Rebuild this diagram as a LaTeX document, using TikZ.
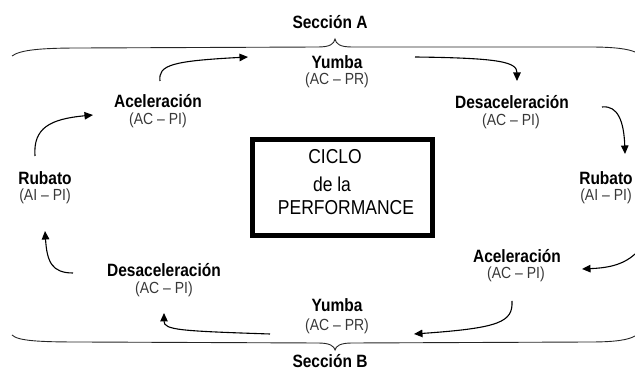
\documentclass[tikz,border=0pt]{standalone}
\usepackage{fontspec}
\setmainfont{Liberation Sans}
\usepackage{graphicx}
\usetikzlibrary{arrows.meta}
\newcommand\vstr[1]{\scalebox{1}[1.15]{#1}}
\begin{document}
\begin{tikzpicture}[x=1pt,y=-1pt,
  lab/.style={font=\fontsize{15.5}{17}\selectfont\bfseries, inner sep=0pt},
  sublab/.style={font=\fontsize{14}{15}\selectfont, text=black!78, inner sep=0pt},
  boxtxt/.style={font=\fontsize{17.5}{20}\selectfont, inner sep=0pt},
  flow/.style={line width=1.1pt, -{Triangle[length=8.5pt,width=7.5pt]}},
  brace/.style={line width=0.9pt, black!85}]
\useasboundingbox (0,0) rectangle (635,371);

% section labels
\node[lab] (secA) at (330,22) {\vstr{Sección A}};
\node[lab] (secB) at (330,361) {\vstr{Sección B}};

% braces
\draw[brace] (12,56) .. controls (20,50) and (40,48) .. (80,48) -- (318,47)
  .. controls (330,47) and (334,44) .. (335,39)
  .. controls (336,44) and (340,47) .. (352,47) -- (590,47)
  .. controls (615,47) and (628,49) .. (635,52);
\draw[brace] (12,335) .. controls (18,341) and (40,342) .. (80,342) -- (318,343)
  .. controls (330,343) and (334,346) .. (335,350)
  .. controls (336,346) and (340,343) .. (352,343) -- (590,342)
  .. controls (615,342) and (628,340) .. (635,336);

% centre box
\draw[line width=5pt] (252.5,139.5) rectangle (432.5,235.5);
\node[boxtxt] (c1) at (335,157) {\vstr{CICLO}};
\node[boxtxt] (c2) at (332,184) {\vstr{de la}};
\node[boxtxt] (c3) at (346,208) {\vstr{PERFORMANCE}};

% stage labels
\node[lab] (yT) at (337,62) {\vstr{Yumba}};
\node[sublab] (yTs) at (337,80) {\vstr{(AC – PR)}};
\node[lab] (aT) at (158,101) {\vstr{Aceleración}};
\node[sublab] (aTs) at (158,120) {\vstr{(AC – PI)}};
\node[lab] (dT) at (512,102) {\vstr{Desaceleración}};
\node[sublab] (dTs) at (511,121) {\vstr{(AC – PI)}};
\node[lab] (rL) at (45,178) {\vstr{Rubato}};
\node[sublab] (rLs) at (45,196) {\vstr{(AI – PI)}};
\node[lab] (rR) at (606,178) {\vstr{Rubato}};
\node[sublab] (rRs) at (606,196) {\vstr{(AI – PI)}};
\node[lab] (aB) at (517,256) {\vstr{Aceleración}};
\node[sublab] (aBs) at (516,274) {\vstr{(AC – PI)}};
\node[lab] (dB) at (164,270) {\vstr{Desaceleración}};
\node[sublab] (dBs) at (164,289) {\vstr{(AC – PI)}};
\node[lab] (yB) at (337,305) {\vstr{Yumba}};
\node[sublab] (yBs) at (337,326) {\vstr{(AC – PR)}};

% connector end points
\coordinate (p1s) at (160,81);  \coordinate (p1e) at (248,57);
\coordinate (p2s) at (415,57);  \coordinate (p2e) at (517,81);
\coordinate (p3s) at (602,107); \coordinate (p3e) at (625,154);
\coordinate (p4s) at (635,254); \coordinate (p4e) at (582,269);
\coordinate (p5s) at (512,301); \coordinate (p5e) at (414,334);
\coordinate (p6s) at (270,334); \coordinate (p6e) at (164,313);
\coordinate (p7s) at (73,273);  \coordinate (p7e) at (45,231);
\coordinate (p8s) at (35,156);  \coordinate (p8e) at (93,115);

\draw[flow] (p1s) .. controls (158,65) and (172,61) .. (p1e);
\draw[flow] (p2s) .. controls (500,58) and (517,62) .. (p2e);
\draw[flow] (p3s) .. controls (618,105) and (624,122) .. (p3e);
\draw[flow] (p4s) .. controls (622,266) and (605,268) .. (p4e);
\draw[flow] (p5s) .. controls (513,322) and (500,328) .. (p5e);
\draw[flow] (p6s) .. controls (180,331) and (164,330) .. (p6e);
\draw[flow] (p7s) .. controls (52,273) and (47,262) .. (p7e);
\draw[flow] (p8s) .. controls (33,128) and (50,119) .. (p8e);
\end{tikzpicture}
\end{document}
